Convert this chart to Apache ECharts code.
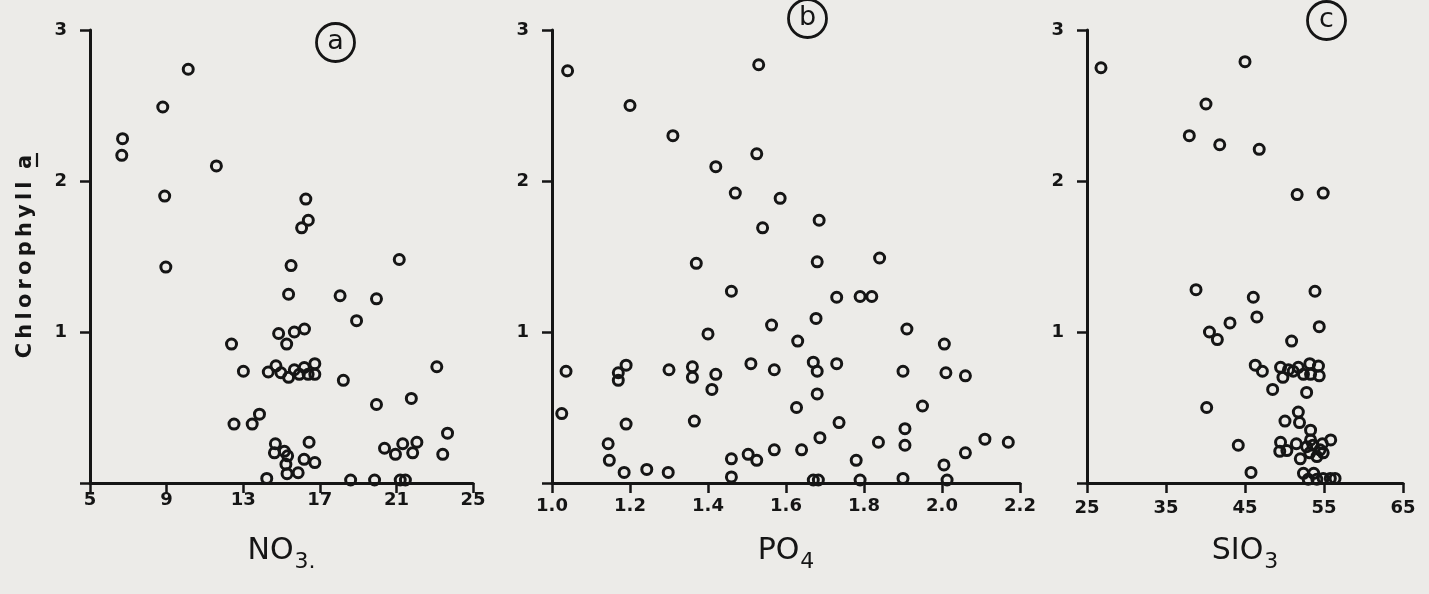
<!DOCTYPE html>
<html>
<head>
<meta charset="utf-8">
<script src="https://cdn.jsdelivr.net/npm/echarts@6/dist/echarts.min.js"></script>
<style>
html,body{margin:0;padding:0;background:#ecebe8;}
#chart{width:1429px;height:594px;}
</style>
</head>
<body>
<div id="chart"></div>
<script>
// ---- Data ----
const no3X = [10.13,8.8,6.7,6.66,11.6,8.9,16.27,16.4,16.05,8.96,15.5,21.15,15.37,18.06,19.96,18.92,14.85,15.67,16.2,15.27,12.39,13.01,14.31,14.71,14.97,15.37,15.67,15.93,16.19,16.39,16.74,16.74,23.11,18.23,21.78,19.96,13.85,13.47,12.52,23.67,16.44,14.68,14.63,15.15,15.32,15.23,16.18,16.74,15.87,15.29,14.23,18.61,19.86,21.2,21.47,20.38,20.95,21.33,21.85,22.07,23.42];
const no3Chl = [2.74,2.49,2.28,2.17,2.10,1.90,1.88,1.74,1.69,1.43,1.44,1.48,1.25,1.24,1.22,1.075,0.99,1.00,1.02,0.92,0.92,0.74,0.735,0.776,0.73,0.70,0.75,0.72,0.765,0.72,0.79,0.72,0.77,0.68,0.56,0.52,0.456,0.39,0.39,0.33,0.27,0.26,0.20,0.21,0.18,0.124,0.157,0.135,0.068,0.062,0.03,0.02,0.02,0.02,0.02,0.23,0.19,0.26,0.20,0.27,0.19];

const po4X = [1.04,1.53,1.20,1.31,1.525,1.42,1.47,1.585,1.685,1.54,1.37,1.68,1.84,1.46,1.73,1.79,1.82,1.677,1.563,1.91,1.40,1.63,2.006,1.67,1.73,1.51,1.68,1.57,1.90,2.01,2.06,1.036,1.17,1.19,1.17,1.30,1.36,1.36,1.42,1.41,1.68,1.95,1.627,1.025,1.365,1.736,1.19,1.905,1.687,1.837,1.905,2.11,2.17,1.144,1.147,1.503,1.525,1.57,1.64,1.46,1.78,2.06,2.005,1.185,1.243,1.298,1.46,1.67,1.683,1.79,1.90,2.013];
const po4Chl = [2.73,2.77,2.50,2.30,2.18,2.095,1.92,1.885,1.74,1.69,1.455,1.465,1.49,1.27,1.23,1.235,1.235,1.09,1.046,1.02,0.987,0.94,0.92,0.80,0.79,0.79,0.74,0.75,0.74,0.73,0.71,0.74,0.73,0.78,0.68,0.75,0.77,0.70,0.72,0.62,0.59,0.51,0.50,0.46,0.41,0.40,0.39,0.36,0.30,0.27,0.25,0.29,0.27,0.26,0.15,0.19,0.15,0.22,0.22,0.16,0.15,0.20,0.12,0.07,0.09,0.07,0.04,0.02,0.02,0.02,0.03,0.02];

const sio3X = [26.77,45.0,40.06,37.95,41.8,46.8,51.6,54.9,38.8,53.86,46.05,46.5,43.1,54.4,40.5,41.5,50.9,46.3,47.2,49.5,49.8,50.5,51.1,51.75,52.4,53.2,53.3,54.3,54.4,48.5,52.8,40.15,51.75,50.06,51.9,53.3,55.85,53.3,49.5,51.5,44.15,49.4,50.3,52.8,53.6,54.5,54.9,54.1,53.2,52.0,54.8,45.76,52.4,53.7,53.0,54.1,54.9,55.8,56.4];
const sio3Chl = [2.75,2.79,2.51,2.30,2.24,2.21,1.91,1.92,1.28,1.27,1.23,1.10,1.06,1.035,1.00,0.95,0.94,0.78,0.74,0.766,0.70,0.75,0.74,0.766,0.72,0.79,0.72,0.775,0.71,0.62,0.60,0.50,0.47,0.41,0.40,0.35,0.285,0.285,0.27,0.26,0.25,0.21,0.215,0.24,0.25,0.22,0.20,0.175,0.20,0.16,0.26,0.07,0.064,0.064,0.025,0.025,0.03,0.03,0.03];

const no3Ticks = {min:5, max:25, interval:4};
const po4Ticks = {min:1.0, max:2.2, interval:0.2};
const sio3Ticks = {min:25, max:65, interval:10};
const chlTicks = {min:0, max:3, interval:1};
const panelLetters = ['a','b','c'];
const yTitle = 'Chlorophyll';

// ---- Styling ----
const INK = '#151515';
const TS = '\u2009'; // thin space, to mimic the wide lettering
const zip = (xs, ys) => xs.map((x, i) => [x, ys[i]]);
const grids = [
  {left: 90, top: 30, width: 383, height: 453},
  {left: 552, top: 30, width: 468, height: 453},
  {left: 1087, top: 30, width: 316, height: 453}
];
const axisLine = {show: true, lineStyle: {color: INK, width: 3}};
const axisTick = {show: true, inside: false, length: 10, lineStyle: {color: INK, width: 2.5}};
const labelStyle = {color: INK, fontFamily: 'DejaVu Sans', fontWeight: 'bold', fontSize: 18};
const nameRich = {
  m: {fontFamily: 'DejaVu Sans', fontSize: 30, color: INK, lineHeight: 44, verticalAlign: 'middle'},
  s: {fontFamily: 'DejaVu Sans', fontSize: 22, color: INK, lineHeight: 20, verticalAlign: 'bottom', padding: [0, 0, 0, 1]}
};

function xAxis(idx, t, name, fmt, margin) {
  return {
    type: 'value', gridIndex: idx, min: t.min, max: t.max, interval: t.interval,
    axisLine, axisTick, splitLine: {show: false},
    axisLabel: Object.assign({margin: margin, formatter: fmt}, labelStyle),
    name, nameLocation: 'middle', nameGap: 46,
    nameTextStyle: {rich: nameRich}
  };
}
function yAxis(idx, withName) {
  return {
    type: 'value', gridIndex: idx, min: chlTicks.min, max: chlTicks.max, interval: chlTicks.interval,
    axisLine, axisTick, splitLine: {show: false},
    axisLabel: Object.assign({margin: 23, formatter: v => v === 0 ? '' : String(v)}, labelStyle),
    name: withName ? yTitle.split('').join(TS) + TS + TS + TS + 'a' : '',
    nameLocation: 'middle', nameGap: 54, nameRotate: 90,
    nameTextStyle: {color: INK, fontFamily: 'DejaVu Sans', fontWeight: 'bold', fontSize: 21}
  };
}
function scatter(idx, data) {
  return {
    type: 'scatter', xAxisIndex: idx, yAxisIndex: idx, data, clip: false,
    symbol: 'circle', symbolSize: 10,
    itemStyle: {color: 'rgba(0,0,0,0)', borderColor: INK, borderWidth: 3, opacity: 1}
  };
}
function circled(letter, cx, cy) {
  return {
    type: 'group', left: cx - 21, top: cy - 21,
    children: [
      {type: 'circle', shape: {cx: 21, cy: 21, r: 19}, style: {fill: 'none', stroke: INK, lineWidth: 2.8}},
      {type: 'text', x: 21, y: 20, style: {text: letter, fill: INK, font: '27px "DejaVu Sans"', textAlign: 'center', textVerticalAlign: 'middle'}}
    ]
  };
}

const chart = echarts.init(document.getElementById('chart'), null, {renderer: 'canvas'});
chart.setOption({
  backgroundColor: '#ecebe8',
  animation: false,
  grid: grids,
  xAxis: [
    xAxis(0, no3Ticks, '{m|NO}{s|3.}', v => String(v), 8),
    xAxis(1, po4Ticks, '{m|PO}{s|4}', v => v.toFixed(1), 14),
    xAxis(2, sio3Ticks, '{m|SIO}{s|3}', v => String(v), 16)
  ],
  yAxis: [yAxis(0, true), yAxis(1, false), yAxis(2, false)],
  series: [
    scatter(0, zip(no3X, no3Chl)),
    scatter(1, zip(po4X, po4Chl)),
    scatter(2, zip(sio3X, sio3Chl))
  ],
  graphic: [
    circled(panelLetters[0], 335, 42),
    circled(panelLetters[1], 807, 18),
    circled(panelLetters[2], 1326, 20),
    {type: 'line', shape: {x1: 37, y1: 153, x2: 37, y2: 167}, style: {stroke: INK, lineWidth: 2.2}}
  ]
});
</script>
</body>
</html>
